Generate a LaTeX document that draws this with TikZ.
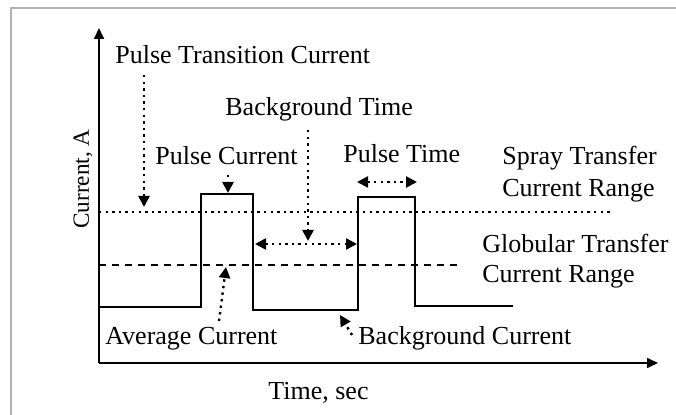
\documentclass[tikz,border=0pt]{standalone}
\usepackage{fontspec}
\setmainfont{Liberation Serif}
\usetikzlibrary{arrows.meta}
\begin{document}
\begin{tikzpicture}[x=0.5pt,y=-0.5pt,
  lbl/.style={anchor=base west, inner sep=0pt, font=\fontsize{13}{15}\selectfont},
  axis/.style={line width=0.85pt, -{Triangle[length=5.5pt,width=5pt]}},
  wave/.style={line width=0.95pt},
  dotline/.style={line width=1.2pt, dash pattern=on 1.2pt off 2.1pt},
  dashline/.style={line width=0.9pt, dash pattern=on 3.5pt off 3pt},
  tip/.style={Triangle[length=5.5pt,width=5.5pt]},
  ptr/.style={line width=1.2pt, dash pattern=on 1.2pt off 2.1pt, -{Triangle[length=5.5pt,width=5.5pt]}},
  dptr/.style={line width=1.2pt, dash pattern=on 1.2pt off 2.1pt, {Triangle[length=5.5pt,width=5.5pt]}-{Triangle[length=5.5pt,width=5.5pt]}},
  frame/.style={draw=black!30, line width=1pt},
]
\useasboundingbox (0,0) rectangle (676,415);
% page frame
\draw[frame] (11,415) -- (11,8) -- (676,8);

% axes
\coordinate (O) at (99,363);
\coordinate (ytop) at (99,28);
\coordinate (xend) at (658,363);
\draw[axis] (O) -- (ytop);
\draw[axis] (O) -- (xend);

% transfer current levels
\draw[dotline] (99,212) -- (613,212);
\draw[dashline] (99,265) -- (457,265);

% pulsed current waveform
\draw[wave] (99,307) -- (201,307) -- (201,194) -- (253,194) -- (253,310)
  -- (358,310) -- (358,197) -- (415,197) -- (415,306) -- (513,306);

% labels
\node[lbl] (ptc) at (115,64) {Pulse Transition Current};
\node[lbl] (bt)  at (225,116) {Background Time};
\node[lbl] (pc)  at (155,165) {Pulse Current};
\node[lbl] (pt)  at (343,163) {Pulse Time};
\node[lbl] (st1) at (502,165) {Spray Transfer};
\node[lbl] (st2) at (502,197) {Current Range};
\node[lbl] (gt1) at (482,253) {Globular Transfer};
\node[lbl] (gt2) at (482,283) {Current Range};
\node[lbl] (ac)  at (105,345) {Average Current};
\node[lbl] (bc)  at (358,345) {Background Current};
\node[lbl] (tx)  at (268,400) {Time, sec};
\node[rotate=90, anchor=base, inner sep=0pt, font=\fontsize{11.6}{14}\selectfont] (cy) at (89,179) {Current, A};

% pointer ends
\coordinate (ptcTail) at (144,75);   \coordinate (ptcTip) at (144,207);
\coordinate (pcTail)  at (228,175);  \coordinate (pcTip)  at (228,193);
\coordinate (btTail)  at (308,130);  \coordinate (btTip)  at (308,241);
\coordinate (btL)     at (255,244);  \coordinate (btR)    at (357,244);
\coordinate (ptL)     at (357,182);  \coordinate (ptR)    at (417,182);
\coordinate (acTail)  at (219,321);  \coordinate (acTip)  at (226,267);
\coordinate (bcTail)  at (352,335);  \coordinate (bcTip)  at (340,315);

% pointers
\draw[ptr]  (ptcTail) -- (ptcTip);
\draw[ptr]  (pcTail) -- (pcTip);
\draw[ptr]  (btTail) -- (btTip);
\draw[dptr] (btL) -- (btR);
\draw[dptr] (ptL) -- (ptR);
\draw[ptr]  (acTail) -- (acTip);
\draw[ptr]  (bcTail) -- (bcTip);
\end{tikzpicture}
\end{document}
